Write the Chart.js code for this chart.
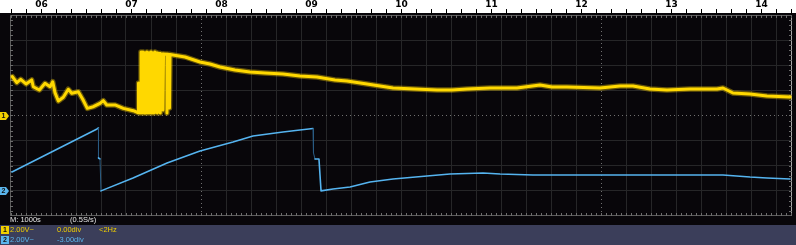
<!DOCTYPE html>
<html>
<head>
<meta charset="utf-8">
<script src="https://cdn.jsdelivr.net/npm/chart.js@4/dist/chart.umd.min.js"></script>
<style>
  html, body { margin: 0; padding: 0; background: #08060a; }
  #wrap { position: relative; width: 796px; height: 245px; overflow: hidden; }
  #scope { position: absolute; left: 0; top: 0; }
  .txt { position: absolute; font: 7.5px "Liberation Sans", Arial, sans-serif; line-height: 10px; white-space: nowrap; }
  .chip { position: absolute; left: 1px; width: 8px; height: 8px; font: bold 7px "Liberation Sans", Arial, sans-serif; line-height: 8px; text-align: center; color: #111; }
</style>
</head>
<body>
<div id="wrap">
  <canvas id="scope" width="796" height="245"></canvas>
  <div class="txt" style="left:10px;top:215px;color:#e4e4e4">M: 1000s</div>
  <div class="txt" style="left:70px;top:215px;color:#e4e4e4">(0.5S/s)</div>
  <div style="position:absolute;left:0;top:225px;width:796px;height:20px;background:#3b3e5a"></div>
  <div class="chip" style="top:226px;background:#f2d000">1</div>
  <div class="txt" style="left:10px;top:225px;color:#efcd00">2.00V~</div>
  <div class="txt" style="left:57px;top:225px;color:#efcd00">0.00div</div>
  <div class="txt" style="left:99px;top:225px;color:#efcd00">&lt;2Hz</div>
  <div class="chip" style="top:236px;background:#5ab4ec">2</div>
  <div class="txt" style="left:10px;top:235px;color:#5ab4ec">2.00V~</div>
  <div class="txt" style="left:57px;top:235px;color:#5ab4ec">-3.00div</div>
</div>
<script>
// ruler on top: hours of the day
const hourTicks = [6, 7, 8, 9, 10, 11, 12, 13, 14];
const hourLabels = ["06", "07", "08", "09", "10", "11", "12", "13", "14"];

// channel settings (V/div and position in div)
const ch1Scale = 2.0, ch1Offset = 0.0;
const ch2Scale = 2.0, ch2Offset = -3.0;

// channel 1 (yellow): time in hours, volts
const ch1Time = [
  5.676, 5.725, 5.769, 5.828, 5.891, 5.909, 5.976, 6.039, 6.095, 6.125,
  6.150, 6.187, 6.242, 6.298, 6.336, 6.409, 6.458, 6.509, 6.576, 6.650,
  6.687, 6.725, 6.817, 6.909, 7.020, 7.076,
  // burst around 07:10
  7.078, 7.095, 7.106, 7.106, 7.117, 7.128, 7.139, 7.150, 7.161, 7.172,
  7.183, 7.195, 7.206, 7.217, 7.228, 7.239, 7.250, 7.261, 7.272, 7.278,
  7.284, 7.284, 7.290, 7.300, 7.300, 7.306, 7.317, 7.317, 7.322, 7.350,
  7.350, 7.356, 7.394, 7.394, 7.400, 7.422, 7.422, 7.428,
  // slow decay
  7.595, 7.761, 7.872, 7.983, 8.150, 8.317, 8.483, 8.683, 8.872, 9.061,
  9.261, 9.395, 9.617, 9.761, 9.906, 10.150, 10.395, 10.561, 10.728, 10.983,
  11.283, 11.539, 11.672, 11.839, 12.206, 12.428, 12.572, 12.761, 12.950, 13.206,
  13.506, 13.572, 13.683, 13.872, 14.061, 14.317
];
const ch1Volts = [
  3.09, 2.61, 2.88, 2.51, 2.83, 2.29, 2.03, 2.56, 2.29, 2.69,
  1.82, 1.15, 1.45, 2.09, 1.77, 1.89, 1.29, 0.57, 0.70, 0.97,
  1.18, 0.84, 0.84, 0.57, 0.38, 0.22,
  2.59, 0.20, 2.59, 5.05, 0.20, 5.05, 0.20, 5.00, 0.20, 5.05,
  0.20, 5.00, 0.20, 5.05, 0.20, 5.00, 0.20, 5.05, 0.25, 4.97,
  4.97, 0.20, 4.95, 4.95, 0.84, 4.93, 4.93, 0.20, 4.92, 4.90,
  0.44, 4.90, 4.88, 0.20, 4.88, 4.86, 0.60, 4.86,
  4.66, 4.26, 4.10, 3.86, 3.62, 3.46, 3.38, 3.30, 3.14, 3.06,
  2.83, 2.75, 2.51, 2.35, 2.19, 2.11, 2.03, 2.03, 2.11, 2.19,
  2.19, 2.43, 2.27, 2.27, 2.19, 2.35, 2.35, 2.11, 2.03, 2.11,
  2.11, 2.19, 1.79, 1.71, 1.55, 1.47
];

// channel 2 (blue)
const ch2Time = [
  5.672, 6.617, 6.633, 6.633, 6.650, 6.661, 7.017, 7.395, 7.761, 8.128,
  8.350, 8.683, 8.872, 9.017, 9.022, 9.039, 9.083, 9.106, 9.239, 9.428,
  9.650, 9.906, 10.283, 10.539, 10.906, 11.095, 11.461, 12.206, 12.950, 13.572,
  13.872, 14.061, 14.317
];
const ch2Volts = [
  1.50, 4.93, 5.01, 2.62, 2.54, 0.00, 1.03, 2.22, 3.17, 3.89,
  4.37, 4.69, 4.85, 4.97, 3.02, 2.54, 2.54, 0.00, 0.15, 0.31,
  0.71, 0.95, 1.18, 1.34, 1.42, 1.34, 1.26, 1.26, 1.26, 1.26,
  1.10, 1.03, 0.95
];

// screen: 31.28 div of 1000 s, 8 div high
const timeMin = 5.650, timeMax = 14.339;
const divMin = -0.64, divMax = 30.64;

const toPoints = (times, volts, scale, offset) =>
  times.map((t, i) => ({ x: t, y: volts[i] / scale + offset }));

// ruler minor ticks every 10 minutes
const rulerTicks = [];
for (let h = 5; h <= 14; h++) {
  for (let k = 0; k < 6; k++) {
    const v = h + k / 6;
    if (v >= timeMin && v <= timeMax) rulerTicks.push(v);
  }
}
const gridDivs = [];
for (let d = 0; d <= 30; d++) gridDivs.push(d);

const steep = (c) => Math.abs(c.p1.x - c.p0.x) < 2 && Math.abs(c.p1.y - c.p0.y) > 6;

const scopeFrame = {
  id: "scopeFrame",
  beforeDraw(chart) {
    const { ctx } = chart;
    ctx.save();
    ctx.fillStyle = "#08060a";
    ctx.fillRect(0, 0, chart.width, chart.height);
    ctx.fillStyle = "#ffffff";
    ctx.fillRect(0, 0, chart.width, 13);
    ctx.restore();
  },
  beforeDatasetsDraw(chart) {
    const { ctx, chartArea: a, scales } = chart;
    ctx.save();
    ctx.lineWidth = 1;
    ctx.strokeStyle = "#5c5c5c";
    ctx.beginPath();
    ctx.moveTo(a.left + 0.5, a.bottom);
    ctx.lineTo(a.left + 0.5, a.top + 0.5);
    ctx.lineTo(a.right, a.top + 0.5);
    ctx.moveTo(a.left, a.bottom - 0.5);
    ctx.lineTo(a.right, a.bottom - 0.5);
    ctx.stroke();
    ctx.strokeStyle = "#a8a8a8";
    ctx.beginPath();
    ctx.moveTo(a.right - 0.5, a.top);
    ctx.lineTo(a.right - 0.5, a.bottom);
    ctx.stroke();
    // small ticks on the frame, 5 per division
    ctx.strokeStyle = "#6c6c6c";
    ctx.beginPath();
    for (let v = -0.6; v < divMax; v += 0.2) {
      const px = Math.round(scales.xg.getPixelForValue(v)) + 0.5;
      ctx.moveTo(px, a.top); ctx.lineTo(px, a.top + 3);
      ctx.moveTo(px, a.bottom); ctx.lineTo(px, a.bottom - 3);
    }
    for (let v = -3.8; v < 4; v += 0.2) {
      const py = Math.round(scales.y.getPixelForValue(v)) + 0.5;
      ctx.moveTo(a.left, py); ctx.lineTo(a.left + 3, py);
      ctx.moveTo(a.right, py); ctx.lineTo(a.right - 3, py);
    }
    ctx.stroke();
    ctx.restore();
  },
  afterDraw(chart) {
    const { ctx, scales } = chart;
    const marker = (yv, fill, label) => {
      const y = Math.round(scales.y.getPixelForValue(yv));
      ctx.fillStyle = fill;
      ctx.beginPath();
      ctx.moveTo(0, y - 4);
      ctx.lineTo(6, y - 4);
      ctx.lineTo(9, y);
      ctx.lineTo(6, y + 4);
      ctx.lineTo(0, y + 4);
      ctx.closePath();
      ctx.fill();
      ctx.fillStyle = "#111";
      ctx.font = "bold 7px 'Liberation Sans', Arial, sans-serif";
      ctx.textAlign = "center";
      ctx.textBaseline = "middle";
      ctx.fillText(label, 3.5, y + 0.5);
    };
    ctx.save();
    marker(ch1Offset, "#f2d000", "1");
    marker(ch2Offset, "#5ab4ec", "2");
    ctx.restore();
  }
};

const hidden = "rgba(0,0,0,0)";

new Chart(document.getElementById("scope"), {
  type: "line",
  data: {
    datasets: [
      {
        label: "CH1",
        data: toPoints(ch1Time, ch1Volts, ch1Scale, ch1Offset),
        borderColor: "#ffd800",
        borderWidth: 3,
        xAxisID: "x",
        yAxisID: "y"
      },
      {
        label: "CH1 noise",
        data: toPoints(ch1Time, ch1Volts, ch1Scale, ch1Offset),
        borderColor: "rgba(255,214,0,0.38)",
        borderWidth: 5.5,
        xAxisID: "x",
        yAxisID: "y"
      },
      {
        label: "CH2",
        data: toPoints(ch2Time, ch2Volts, ch2Scale, ch2Offset),
        borderColor: "#55b4f0",
        borderWidth: 1.6,
        segment: {
          borderColor: (c) => (steep(c) ? "#2a5c82" : undefined),
          borderWidth: (c) => (steep(c) ? 1 : undefined)
        },
        xAxisID: "x",
        yAxisID: "y"
      }
    ]
  },
  options: {
    responsive: false,
    animation: false,
    devicePixelRatio: 1,
    layout: { padding: { left: 10, right: 4, top: 0, bottom: 29 } },
    elements: {
      point: { radius: 0 },
      line: { tension: 0, borderJoinStyle: "round", borderCapStyle: "round" }
    },
    plugins: { legend: { display: false }, tooltip: { enabled: false } },
    scales: {
      x: {
        type: "linear",
        position: "top",
        min: timeMin,
        max: timeMax,
        afterBuildTicks: (s) => { s.ticks = rulerTicks.map((v) => ({ value: v })); },
        afterFit: (s) => { s.height = 15; },
        ticks: {
          autoSkip: false,
          maxRotation: 0,
          padding: -1,
          color: "#000",
          font: { family: "DejaVu Sans", size: 9, weight: "bold" },
          callback: (v) => {
            const i = hourTicks.findIndex((h) => Math.abs(h - v) < 1e-6);
            return i >= 0 ? hourLabels[i] : "";
          }
        },
        grid: { drawOnChartArea: false, tickLength: 6, tickColor: "#000", tickWidth: 1 },
        border: { display: false }
      },
      xg: {
        type: "linear",
        position: "bottom",
        min: divMin,
        max: divMax,
        afterBuildTicks: (s) => { s.ticks = gridDivs.map((v) => ({ value: v })); },
        afterFit: (s) => { s.height = 0; },
        ticks: { display: false },
        grid: {
          drawTicks: false,
          color: (c) => (c.tick && (c.tick.value === 7 || c.tick.value === 23) ? hidden : "#262628")
        },
        border: { display: false }
      },
      xd: {
        type: "linear",
        position: "bottom",
        min: divMin,
        max: divMax,
        afterBuildTicks: (s) => { s.ticks = [{ value: 7 }, { value: 23 }]; },
        afterFit: (s) => { s.height = 0; },
        ticks: { display: false },
        grid: { drawTicks: false, color: "#707070" },
        border: { display: false, dash: [1, 3] }
      },
      y: {
        type: "linear",
        position: "left",
        min: -4,
        max: 4,
        ticks: { display: false, stepSize: 1 },
        afterFit: (s) => { s.width = 0; },
        grid: {
          drawTicks: false,
          color: (c) => (c.tick && (c.tick.value === 0 || Math.abs(c.tick.value) === 4) ? hidden : "#262628")
        },
        border: { display: false }
      },
      yd: {
        type: "linear",
        position: "left",
        min: -4,
        max: 4,
        afterBuildTicks: (s) => { s.ticks = [{ value: 0 }]; },
        afterFit: (s) => { s.width = 0; },
        ticks: { display: false },
        grid: { drawTicks: false, color: "#707070" },
        border: { display: false, dash: [1, 3] }
      }
    }
  },
  plugins: [scopeFrame]
});
</script>
</body>
</html>
